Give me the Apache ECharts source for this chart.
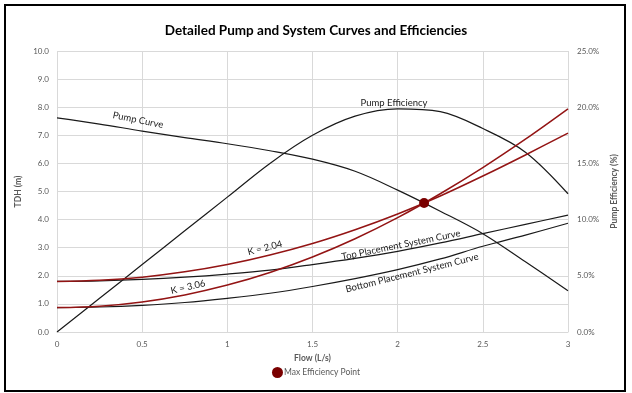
<!DOCTYPE html>
<html>
<head>
<meta charset="utf-8">
<script src="https://cdn.jsdelivr.net/npm/echarts@6/dist/echarts.min.js"></script>
<style>
html,body{margin:0;padding:0;background:#fff;}
#chart{width:632px;height:393px;}
</style>
</head>
<body>
<div id="chart"></div>
<script>
// ---- data ----
const flow = [0, 0.25, 0.5, 0.75, 1.0, 1.25, 1.5, 1.75, 2.0, 2.25, 2.5, 2.75, 3.0];
const pumpCurve = [7.62, 7.40, 7.15, 6.92, 6.70, 6.45, 6.15, 5.72, 5.05, 4.30, 3.50, 2.50, 1.47];
const pumpEfficiency = [0, 3.0, 6.0, 9.0, 12.0, 15.0, 17.5, 19.2, 19.85, 19.6, 18.1, 16.0, 12.3];
const topSystem = [1.80, 1.82, 1.87, 1.95, 2.06, 2.20, 2.40, 2.62, 2.87, 3.17, 3.50, 3.83, 4.16];
const bottomSystem = [0.87, 0.89, 0.95, 1.05, 1.20, 1.38, 1.62, 1.90, 2.22, 2.60, 3.05, 3.45, 3.87];
const k204 = [1.80, 1.84, 1.95, 2.14, 2.40, 2.74, 3.15, 3.64, 4.20, 4.84, 5.55, 6.30, 7.08];
const k306 = [0.87, 0.92, 1.07, 1.32, 1.67, 2.12, 2.67, 3.32, 4.07, 4.92, 5.85, 6.86, 7.94];
const maxEffPoint = [[2.155, 4.59]];
const xTicks = [0, 0.5, 1, 1.5, 2, 2.5, 3];

const pairs = arr => flow.map((f, i) => [f, arr[i]]);
const FONT = 'Lato';
const black = '#1a1a1a';
const red = '#931414';

const chart = echarts.init(document.getElementById('chart'));
function lineSeries(name, arr, color, yIdx) {
  return {
    name: name, type: 'line', yAxisIndex: yIdx || 0, data: pairs(arr),
    smooth: 0.35, showSymbol: false, silent: true,
    lineStyle: {color: color, width: color === red ? 1.5 : 1.2}, z: color === red ? 3 : 2
  };
}
const ann = (text, x, y, rot) => ({
  type: 'text', x: x, y: y, rotation: rot, z: 10,
  style: {text: text, font: '9.5px ' + FONT, fill: '#1a1a1a', textAlign: 'center', textVerticalAlign: 'middle'}
});

chart.setOption({
  backgroundColor: '#fff',
  animation: false,
  title: {
    text: 'Detailed Pump and System Curves and Efficiencies',
    left: 'center', top: 19,
    textStyle: {fontFamily: FONT, fontSize: 13.5, fontWeight: 'bold', color: '#000'}
  },
  legend: {
    data: ['Max Efficiency Point'], bottom: 10, left: 'center',
    itemWidth: 11, itemHeight: 11, itemGap: 4,
    textStyle: {fontFamily: FONT, fontSize: 8.5, color: '#595959', padding: [0,0,0,-4]}
  },
  grid: {left: 57, right: 64, top: 51, bottom: 61},
  xAxis: {
    type: 'value', min: 0, max: 3, interval: 0.5,
    name: 'Flow (L/s)', nameLocation: 'middle', nameGap: 22,
    nameTextStyle: {fontFamily: FONT, fontSize: 8.5, fontWeight: 'bold', color: '#595959'},
    axisLine: {show: true, lineStyle: {color: '#d9d9d9'}},
    axisTick: {show: false},
    axisLabel: {fontFamily: FONT, fontSize: 8, color: '#595959', margin: 8,
      formatter: v => xTicks.includes(v) ? String(v) : ''},
    splitLine: {show: true, lineStyle: {color: '#d9d9d9'}}
  },
  yAxis: [{
    type: 'value', min: 0, max: 10, interval: 1,
    name: 'TDH (m)', nameLocation: 'middle', nameGap: 29, nameRotate: 90,
    nameTextStyle: {fontFamily: FONT, fontSize: 8.5, fontWeight: 'bold', color: '#595959'},
    axisLine: {show: false}, axisTick: {show: false},
    axisLabel: {fontFamily: FONT, fontSize: 8, color: '#595959', margin: 8, formatter: v => v.toFixed(1)},
    splitLine: {show: true, lineStyle: {color: '#d9d9d9'}}
  }, {
    type: 'value', min: 0, max: 25, interval: 5,
    name: 'Pump Efficiency (%)', nameLocation: 'middle', nameGap: 40, nameRotate: 90,
    nameTextStyle: {fontFamily: FONT, fontSize: 8.5, fontWeight: 'bold', color: '#595959'},
    axisLine: {show: false}, axisTick: {show: false},
    axisLabel: {fontFamily: FONT, fontSize: 8, color: '#595959', margin: 9, formatter: v => v.toFixed(1) + '%'},
    splitLine: {show: false}
  }],
  series: [
    lineSeries('Pump Curve', pumpCurve, black, 0),
    lineSeries('Pump Efficiency', pumpEfficiency, black, 1),
    lineSeries('Top Placement System Curve', topSystem, black, 0),
    lineSeries('Bottom Placement System Curve', bottomSystem, black, 0),
    lineSeries('K = 2.04', k204, red, 0),
    lineSeries('K = 3.06', k306, red, 0),
    {
      name: 'Max Efficiency Point', type: 'scatter', data: maxEffPoint,
      symbol: 'circle', symbolSize: 10, z: 5,
      itemStyle: {color: '#7a0000', opacity: 1}
    }
  ],
  graphic: [
    {type: 'rect', shape: {x: 5, y: 5, width: 620, height: 386}, style: {fill: 'none', stroke: '#000', lineWidth: 2}, z: 20, silent: true},
    ann('Pump Curve', 138, 120, -0.2),
    ann('Pump Efficiency', 394, 103, 0),
    ann('K = 2.04', 265, 248, 0.25),
    ann('K = 3.06', 188, 287, 0.23),
    ann('Top Placement System Curve', 401, 245, 0.2),
    ann('Bottom Placement System Curve', 412, 273, 0.245)
  ]
});
</script>
</body>
</html>
